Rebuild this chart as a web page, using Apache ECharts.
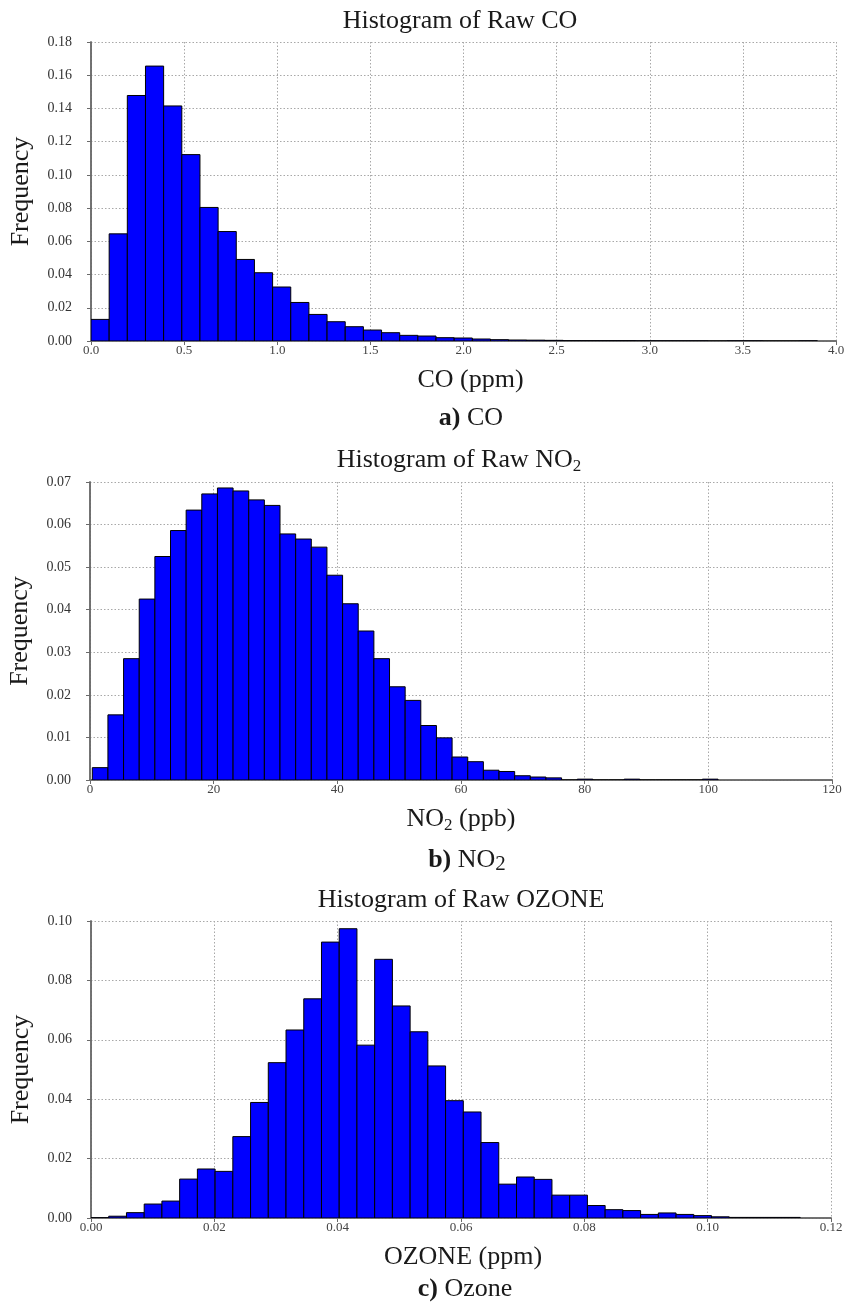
<!DOCTYPE html>
<html>
<head>
<meta charset="utf-8">
<script src="https://cdn.jsdelivr.net/npm/echarts@6/dist/echarts.min.js"></script>
<style>
html,body{margin:0;padding:0;background:#fff;}
#chart{width:859px;height:1303px;}
</style>
</head>
<body>
<div id="chart"></div>
<script>
// ---------- DATA ----------
// CO histogram: 40 bins starting at 0 ppm, bin width 0.0975 ppm
const coBinStart = 0;
const coBinWidth = 0.0975;
const coFreq = [0.0130, 0.0645, 0.1478, 0.1655, 0.1415, 0.1122, 0.0804, 0.0659, 0.0491, 0.0411,
                0.0325, 0.0232, 0.0160, 0.0116, 0.0086, 0.0066, 0.0050, 0.0034, 0.0030, 0.0020,
                0.0018, 0.0012, 0.0008, 0.0006, 0.0005, 0.0004, 0.0002, 0.0002, 0.0002, 0.0002,
                0.0001, 0.0001, 0.0001, 0.0001, 0, 0.0001, 0.0001, 0, 0, 0.0001];
const coXTicks = [0, 4.0, 0.5];      // min, max, interval
const coYTicks = [0, 0.18, 0.02];

// NO2 histogram: 40 bins starting at 0.37 ppb, bin width 2.53 ppb
const no2BinStart = 0.37;
const no2BinWidth = 2.53;
const no2Freq = [0.0029, 0.0153, 0.0285, 0.0425, 0.0525, 0.0586, 0.0634, 0.0672, 0.0686, 0.0679,
                 0.0658, 0.0645, 0.0578, 0.0566, 0.0547, 0.0481, 0.0414, 0.0350, 0.0285, 0.0219,
                 0.0187, 0.0128, 0.0099, 0.0054, 0.0043, 0.0023, 0.0020, 0.0010, 0.0007, 0.0005,
                 0, 0.0002, 0, 0, 0.0002, 0, 0, 0, 0, 0.0002];
const no2XTicks = [0, 120, 20];
const no2YTicks = [0, 0.07, 0.01];

// Ozone histogram: 40 bins starting at 0 ppm, bin width 0.002875 ppm
const o3BinStart = 0;
const o3BinWidth = 0.002875;
const o3Freq = [0.0001, 0.0006, 0.0018, 0.0047, 0.0057, 0.0131, 0.0165, 0.0157, 0.0274, 0.0389,
                0.0523, 0.0633, 0.0738, 0.0929, 0.0974, 0.0582, 0.0871, 0.0714, 0.0627, 0.0512,
                0.0395, 0.0357, 0.0254, 0.0114, 0.0138, 0.0130, 0.0077, 0.0077, 0.0042, 0.0028,
                0.0025, 0.0012, 0.0017, 0.0012, 0.0008, 0.0004, 0.0002, 0.0002, 0.0002, 0.0002];
const o3XTicks = [0, 0.12, 0.02];
const o3YTicks = [0, 0.10, 0.02];

const xDecimals = [1, 0, 2];
const yDecimals = [2, 2, 2];

// ---------- STYLE ----------
const SERIF = "'Liberation Serif', 'DejaVu Serif', serif";
const rich = {
  n: {fontFamily: SERIF, fontSize: 26, lineHeight: 30, fontWeight: 'normal', color: '#1a1a1a'},
  b: {fontFamily: SERIF, fontSize: 26, lineHeight: 30, fontWeight: 'bold', color: '#1a1a1a'},
  s: {fontFamily: SERIF, fontSize: 17, lineHeight: 17, fontWeight: 'normal', verticalAlign: 'bottom', color: '#1a1a1a'},
  s2: {fontFamily: SERIF, fontSize: 21, lineHeight: 22, fontWeight: 'normal', verticalAlign: 'bottom', color: '#1a1a1a'}
};

const grids = [
  {left: 91, top: 42, width: 745, height: 299, outerBoundsMode: 'none', containLabel: false},
  {left: 90, top: 482, width: 742, height: 298, outerBoundsMode: 'none', containLabel: false},
  {left: 91, top: 921, width: 740, height: 297, outerBoundsMode: 'none', containLabel: false}
];

const panels = [
  {start: coBinStart, width: coBinWidth, freq: coFreq, xt: coXTicks, yt: coYTicks,
   xName: '{n|CO (ppm)}', xPad: [0, 0, 0, 14]},
  {start: no2BinStart, width: no2BinWidth, freq: no2Freq, xt: no2XTicks, yt: no2YTicks,
   xName: '{n|NO}{s|2}{n| (ppb)}', xPad: [0, 0, 0, 0]},
  {start: o3BinStart, width: o3BinWidth, freq: o3Freq, xt: o3XTicks, yt: o3YTicks,
   xName: '{n|OZONE (ppm)}', xPad: [0, 0, 0, 4]}
];

const xAxes = [], yAxes = [], series = [];
panels.forEach((p, k) => {
  const frameLine = {show: true, lineStyle: {color: '#6a6a6a', width: 1.5}};
  xAxes.push({
    type: 'value', gridIndex: k, position: 'bottom',
    min: p.xt[0], max: p.xt[1], interval: p.xt[2],
    axisLine: frameLine, axisTick: {show: false},
    axisLabel: {fontFamily: SERIF, fontSize: 13, color: '#444', margin: 3,
      formatter: v => v.toFixed(xDecimals[k])},
    splitLine: {show: true, lineStyle: {type: [1.5, 2], color: '#a8a8a8', width: 1}},
    name: p.xName, nameLocation: 'middle', nameGap: 24,
    nameTextStyle: {rich: rich, padding: p.xPad, fontWeight: 'normal'}
  });
  xAxes.push({
    type: 'value', gridIndex: k, position: 'top',
    min: p.xt[0], max: p.xt[1], interval: p.xt[2],
    axisLine: frameLine, axisTick: {show: true, inside: true, length: 4, lineStyle: {color: '#6a6a6a'}},
    axisLabel: {show: false}, splitLine: {show: false}
  });
  yAxes.push({
    type: 'value', gridIndex: k, position: 'left',
    min: p.yt[0], max: p.yt[1], interval: p.yt[2],
    axisLine: frameLine, axisTick: {show: false},
    axisLabel: {fontFamily: SERIF, fontSize: 14, color: '#333', margin: 19,
      formatter: v => v.toFixed(yDecimals[k])},
    splitLine: {show: true, lineStyle: {type: [1.5, 2], color: '#a8a8a8', width: 1}},
    name: 'Frequency', nameLocation: 'middle', nameGap: 53,
    nameTextStyle: {fontFamily: SERIF, fontSize: 26, lineHeight: 30, fontWeight: 'normal', color: '#1a1a1a'}
  });
  yAxes.push({
    type: 'value', gridIndex: k, position: 'right',
    min: p.yt[0], max: p.yt[1], interval: p.yt[2],
    axisLine: frameLine, axisTick: {show: true, inside: true, length: 4, lineStyle: {color: '#6a6a6a'}},
    axisLabel: {show: false}, splitLine: {show: false}
  });
  series.push({
    type: 'custom',
    xAxisIndex: 2 * k, yAxisIndex: 2 * k,
    data: p.freq.map((f, i) => [p.start + i * p.width, p.start + (i + 1) * p.width, f]),
    encode: {x: [0, 1], y: 2},
    clip: true,
    renderItem: function (params, api) {
      const a = api.coord([api.value(0), 0]);
      const b = api.coord([api.value(1), api.value(2)]);
      return {
        type: 'rect',
        shape: {x: a[0], y: b[1], width: b[0] - a[0], height: a[1] - b[1]},
        style: {fill: '#0000FF', stroke: '#000000', lineWidth: 1}
      };
    }
  });
});

const titles = [
  {text: '{n|Histogram of Raw CO}', x: 460, y: 21},
  {text: '{b|a)}{n| CO}', x: 471, y: 418},
  {text: '{n|Histogram of Raw NO}{s|2}', x: 459, y: 460},
  {text: '{b|b)}{n| NO}{s2|2}', x: 467, y: 860},
  {text: '{n|Histogram of Raw OZONE}', x: 461, y: 900},
  {text: '{b|c)}{n| Ozone}', x: 465, y: 1289}
].map(t => ({
  text: t.text, left: t.x, top: t.y, padding: 0,
  textAlign: 'center', textVerticalAlign: 'middle',
  textStyle: {rich: rich, fontWeight: 'normal', fontFamily: SERIF, fontSize: 26}
}));

const chart = echarts.init(document.getElementById('chart'), null, {renderer: 'canvas'});
chart.setOption({
  animation: false,
  backgroundColor: '#ffffff',
  title: titles,
  grid: grids,
  xAxis: xAxes,
  yAxis: yAxes,
  series: series
});
</script>
</body>
</html>
